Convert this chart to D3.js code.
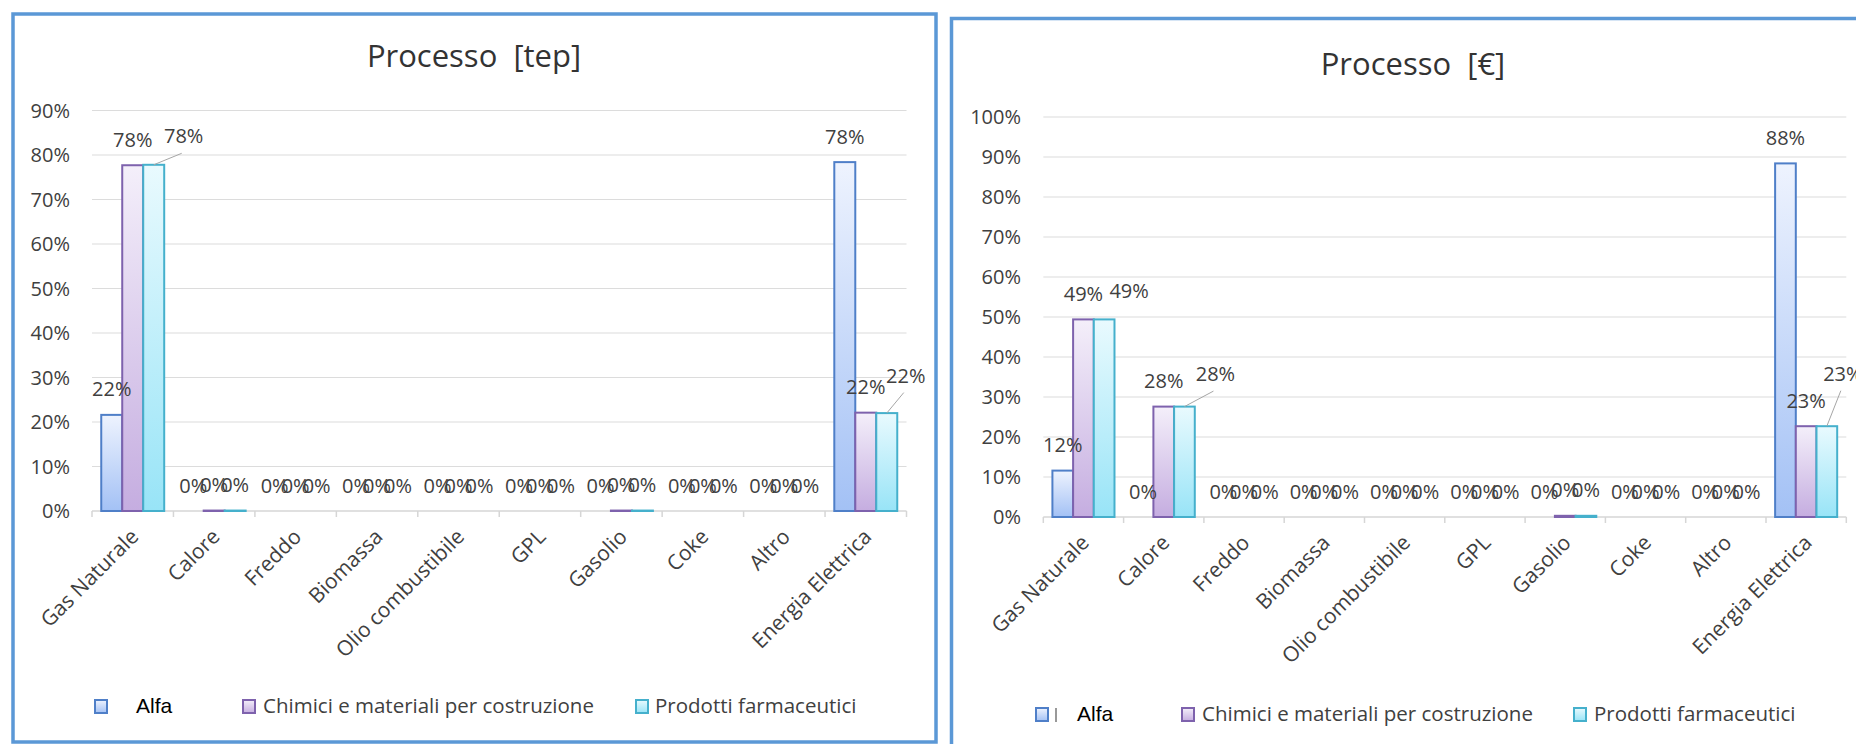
<!DOCTYPE html>
<html><head><meta charset="utf-8">
<script src="https://cdn.jsdelivr.net/npm/d3@7"></script>
<style>
html,body{margin:0;padding:0;background:#fff;}
svg{display:block;font-family:"Open Sans",sans-serif;}
</style></head><body>
<svg id="c" width="1856" height="744"></svg>
<script>
// ---------- DATA ----------
const categories = ["Gas Naturale","Calore","Freddo","Biomassa","Olio combustibile","GPL","Gasolio","Coke","Altro","Energia Elettrica"];
const seriesNames = ["Alfa","Chimici e materiali per costruzione","Prodotti farmaceutici"];

const tepAlfa     = [0.216, 0,     0, 0, 0, 0, 0,     0, 0, 0.784];
const tepChimici  = [0.777, 0.001, 0, 0, 0, 0, 0.001, 0, 0, 0.221];
const tepProdotti = [0.778, 0.001, 0, 0, 0, 0, 0.001, 0, 0, 0.220];

const euroAlfa     = [0.116, 0,     0, 0, 0, 0, 0,     0, 0, 0.884];
const euroChimici  = [0.494, 0.276, 0, 0, 0, 0, 0.003, 0, 0, 0.227];
const euroProdotti = [0.494, 0.276, 0, 0, 0, 0, 0.003, 0, 0, 0.227];

const tepTicks  = [0,0.1,0.2,0.3,0.4,0.5,0.6,0.7,0.8,0.9];
const euroTicks = [0,0.1,0.2,0.3,0.4,0.5,0.6,0.7,0.8,0.9,1.0];
const titles = ["Processo  [tep]", "Processo  [€]"];

// ---------- STYLE / LAYOUT ----------
const seriesStyle = [
  {id:"gA", top:"#eef3fe", bottom:"#a3c1f5", stroke:"#4f7fc8"},
  {id:"gC", top:"#f4effa", bottom:"#c5ade0", stroke:"#7e62ad"},
  {id:"gP", top:"#e9fafe", bottom:"#98e4f7", stroke:"#45b0cc"}
];
const txt = "#404040";
const fmt = d3.format(".0%");

const panels = [
  { series:[tepAlfa,tepChimici,tepProdotti], ticks:tepTicks, max:0.9, title:titles[0],
    border:{x:13,y:14,w:923,h:728}, plot:{x0:92,x1:906.5,yb:511,yt:110.5},
    tickX:70, titlePos:{x:474,y:67},
    legend:{y:713, markY:700, items:[{mx:95,tx:136,alfa:true,box:{x:117,y:685,w:115,h:55}},{mx:243,tx:263},{mx:636,tx:655}]},
    nudges:{"2-0":{dx:30,dy:-3,lead:true},"2-9":{dx:19,dy:-12,lead:true}} },
  { series:[euroAlfa,euroChimici,euroProdotti], ticks:euroTicks, max:1.0, title:titles[1],
    border:{x:951.5,y:18.5,w:960,h:800}, plot:{x0:1043.3,x1:1846.3,yb:517,yt:117},
    tickX:1021, titlePos:{x:1413,y:75},
    legend:{y:721, markY:708, items:[{mx:1036,tx:1077,alfa:true,stub:1056},{mx:1182,tx:1202},{mx:1574,tx:1594}]},
    nudges:{"2-0":{dx:25,dy:-3,lead:false},"2-1":{dx:31,dy:-7,lead:true},"2-9":{dx:16,dy:-27,lead:true}} }
];

const svg = d3.select("#c");
const defs = svg.append("defs");
seriesStyle.forEach(s=>{
  const g = defs.append("linearGradient").attr("id",s.id).attr("x1",0).attr("y1",0).attr("x2",0).attr("y2",1);
  g.append("stop").attr("offset","0%").attr("stop-color",s.top);
  g.append("stop").attr("offset","100%").attr("stop-color",s.bottom);
});

panels.forEach(p=>{
  const g = svg.append("g");
  // border
  g.append("rect").attr("x",p.border.x).attr("y",p.border.y).attr("width",p.border.w).attr("height",p.border.h)
    .attr("fill","#fff").attr("stroke","#5b98d6").attr("stroke-width",3.5);

  const y = d3.scaleLinear().domain([0,p.max]).range([p.plot.yb,p.plot.yt]);
  const x0 = d3.scaleBand().domain(categories).range([p.plot.x0,p.plot.x1]).paddingInner(0.227).paddingOuter(0.1135);
  const x1 = d3.scaleBand().domain([0,1,2]).range([0,x0.bandwidth()]);
  const step = x0.step();

  // title
  g.append("text").attr("x",p.titlePos.x).attr("y",p.titlePos.y).attr("text-anchor","middle")
    .style("white-space","pre").attr("font-size",31).attr("fill","#333").text(p.title);

  // gridlines (non-zero)
  g.selectAll(".grid").data(p.ticks.filter(t=>t>0)).join("line")
    .attr("x1",p.plot.x0).attr("x2",p.plot.x1).attr("y1",d=>y(d)).attr("y2",d=>y(d))
    .attr("stroke","#dcdcdc").attr("stroke-width",1.2);

  // y tick labels
  g.selectAll(".yt").data(p.ticks).join("text")
    .attr("x",p.tickX).attr("y",d=>y(d)).attr("dy","0.35em").attr("text-anchor","end")
    .attr("font-size",20).attr("fill",txt).text(d=>fmt(d));

  // x axis line + ticks
  g.append("line").attr("x1",p.plot.x0).attr("x2",p.plot.x1).attr("y1",p.plot.yb).attr("y2",p.plot.yb)
    .attr("stroke","#d6d6d6").attr("stroke-width",1.5);
  g.selectAll(".xt").data(d3.range(categories.length+1)).join("line")
    .attr("x1",i=>p.plot.x0+i*step).attr("x2",i=>p.plot.x0+i*step)
    .attr("y1",p.plot.yb).attr("y2",p.plot.yb+6).attr("stroke","#d6d6d6").attr("stroke-width",1.5);

  // x labels
  g.selectAll(".xl").data(categories).join("text")
    .attr("transform",d=>`translate(${x0(d)+x0.bandwidth()/2+7},${p.plot.yb+27}) rotate(-45)`)
    .attr("text-anchor","end").attr("font-size",21).attr("fill",txt).text(d=>d);

  // bars
  const rows = [];
  p.series.forEach((vals,si)=>vals.forEach((v,ci)=>rows.push({si,ci,v})));
  g.selectAll(".bar").data(rows).join("rect")
    .filter(d=>d.v>0)
    .attr("x",d=>x0(categories[d.ci])+x1(d.si)).attr("width",x1.bandwidth())
    .attr("y",d=>y(d.v)).attr("height",d=>y(0)-y(d.v))
    .attr("fill",d=>`url(#${seriesStyle[d.si].id})`).attr("stroke",d=>seriesStyle[d.si].stroke).attr("stroke-width",2);

  // data labels
  rows.forEach(d=>{
    const cx = x0(categories[d.ci])+x1(d.si)+x1.bandwidth()/2;
    const top = y(d.v);
    const n = p.nudges[d.si+"-"+d.ci] || {dx:0,dy:0,lead:false};
    const lx = cx+n.dx, ly = top-18.5+n.dy;
    if(n.lead){
      g.append("line").attr("x1",lx-2).attr("y1",ly+10).attr("x2",cx).attr("y2",top)
        .attr("stroke","#a6a6a6").attr("stroke-width",1);
    }
    g.append("text").attr("x",lx).attr("y",ly).attr("text-anchor","middle")
      .attr("font-size",20).attr("fill",txt).text(fmt(d.v));
  });

  // legend
  p.legend.items.forEach((it,i)=>{
    const s = seriesStyle[i];
    if(it.box) g.append("rect").attr("x",it.box.x).attr("y",it.box.y).attr("width",it.box.w).attr("height",it.box.h).attr("fill","#fff");
    g.append("rect").attr("x",it.mx).attr("y",p.legend.markY).attr("width",12).attr("height",13)
      .attr("fill",`url(#${s.id})`).attr("stroke",s.stroke).attr("stroke-width",2);
    if(it.stub) g.append("line").attr("x1",it.stub).attr("x2",it.stub).attr("y1",p.legend.markY).attr("y2",p.legend.markY+14)
      .attr("stroke","#777").attr("stroke-width",1.5);
    const t = g.append("text").attr("x",it.tx).attr("y",p.legend.y).text(seriesNames[i]);
    if(it.alfa) t.attr("font-family","'Liberation Sans',Arial,sans-serif").attr("font-size",21).attr("fill","#000");
    else t.attr("font-size",20.5).attr("fill",txt);
  });
});
</script>
</body></html>
